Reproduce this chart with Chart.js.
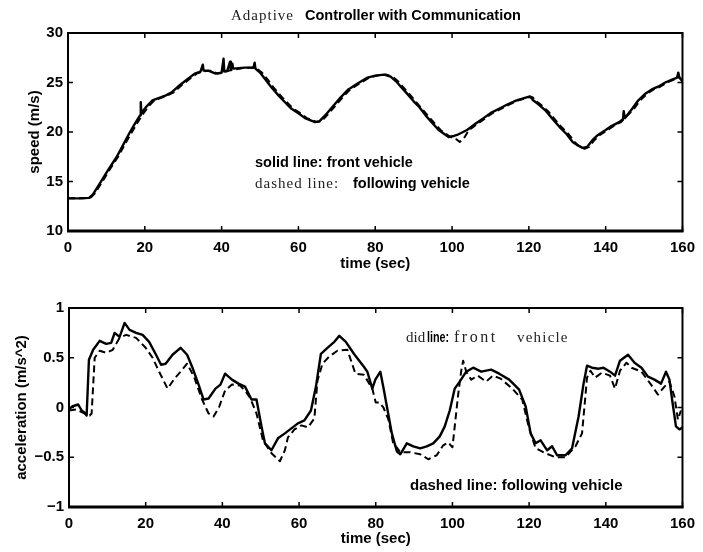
<!DOCTYPE html>
<html>
<head>
<meta charset="utf-8">
<script src="https://cdn.jsdelivr.net/npm/chart.js@4.4.1/dist/chart.umd.min.js"></script>
<style>
  html, body { margin:0; padding:0; background:#fff; }
  #wrap { position:relative; width:703px; height:552px; background:#fff; overflow:hidden; }
  canvas { position:absolute; left:0; }
  .t { position:absolute; white-space:nowrap; line-height:20px; height:20px; color:#000; }
  .sans { font-family:"Liberation Sans", Arial, sans-serif; font-weight:bold; }
  .serif { font-family:"Liberation Serif", serif; color:#222; letter-spacing:1px; }
</style>
</head>
<body>
<div id="wrap">
  <canvas id="c1" width="703" height="276" style="top:0"></canvas>
  <canvas id="c2" width="703" height="276" style="top:276px"></canvas>

  <div class="t serif" style="left:231px;top:5px;font-size:15px;">Adaptive</div>
  <div class="t sans" style="left:305px;top:5px;font-size:14.5px;">Controller with Communication</div>

  <div class="t sans" style="left:255px;top:152px;font-size:14.5px;">solid line: front vehicle</div>
  <div class="t serif" style="left:255px;top:173px;font-size:15px;">dashed line:</div>
  <div class="t sans" style="left:353px;top:173px;font-size:14.5px;">following vehicle</div>

  <div class="t serif" style="left:406px;top:327px;font-size:15px;letter-spacing:0;">did</div>
  <div class="t sans" style="left:427px;top:327px;font-size:15px;transform:scaleX(0.72);transform-origin:0 50%;">line:</div>
  <div class="t serif" style="left:454px;top:327px;font-size:16px;letter-spacing:2.5px;">front</div>
  <div class="t serif" style="left:517px;top:327px;font-size:15px;letter-spacing:1.2px;">vehicle</div>

  <div class="t sans" style="left:410px;top:475px;font-size:15px;">dashed line: following vehicle</div>
</div>
<script>
// ---------------- DATA ----------------
const xTicks = [0, 20, 40, 60, 80, 100, 120, 140, 160];
const speedTicks = [10, 15, 20, 25, 30];
const accTicks = [-1, -0.5, 0, 0.5, 1];

// speed, front vehicle (solid)
const speedFrontT = [0,3,5.5,6.5,8.3,10.5,12.7,14.5,16,17.5,18.8,18.95,19.1,19.25,20.5,22,25.5,27,29,31,33,34.5,35.1,35.3,36.5,38.5,40,40.5,40.7,41.5,42.2,42.4,42.8,43.0,46,48.3,48.6,48.8,50,51.4,53,54.8,56.5,58,60,61.7,64.3,65.5,67,69,71,73,75.4,78,80,82.3,84,85.5,86.6,88,90,91.5,93.5,96.5,99.1,100.5,101.3,103.9,106,108.2,110,112.5,114.5,116.8,119.4,120.3,121.1,122.5,124.5,126,128,129.8,131.4,132.5,134,135.2,136.6,138,140,141.5,143.5,144.5,144.7,145,147,148.5,150.4,152,153.8,155.5,157.3,158.6,158.9,159.2,160];
const speedFrontV = [13.3,13.3,13.35,13.7,14.8,16.2,17.5,18.8,19.9,20.9,21.7,23.0,21.9,22.0,22.6,23.2,23.7,24.0,24.7,25.3,25.9,26.1,26.8,26.2,26.2,25.9,26.0,27.4,26.1,26.2,27.1,26.3,26.9,26.4,26.5,26.5,27.0,26.4,26.0,25.3,24.5,23.7,23.0,22.4,21.9,21.4,21.0,21.1,21.7,22.6,23.5,24.3,24.9,25.5,25.7,25.8,25.6,25.1,24.6,24.0,23.1,22.5,21.5,20.2,19.5,19.6,19.7,20.2,20.8,21.4,21.9,22.4,22.8,23.2,23.5,23.6,23.2,22.8,22.1,21.4,20.5,19.8,19.0,18.7,18.4,18.5,19.2,19.7,20.2,20.6,21.0,21.3,22.1,21.4,22.4,23.2,23.9,24.3,24.6,25.0,25.3,25.5,26.0,25.5,25.1];

// speed, following vehicle (dashed)
const speedFollowT = [0,4,6,7,8.8,11,13.2,15,16.5,18,19.5,21,22.5,26,27.5,29.5,31.5,33.5,35,37,39,40.5,42,46,48.8,50.5,52,53.5,55.3,57,58.5,60.5,62.2,64.8,66,67.5,69.5,71.5,73.5,75.9,78.5,80.5,82.8,84.5,86,87.1,88.5,90.5,94,97,99.6,101,102,103,104.4,106.5,108.7,110.5,113,115,117.3,119.9,121,121.6,123,125,126.5,128.5,130.3,131.9,133,134.5,135.7,137.1,138.5,140.5,142,144,145.5,147.5,149,150.9,152.5,154.3,156,157.8,159.1,160];
const speedFollowV = [13.3,13.3,13.4,13.8,14.9,16.3,17.6,18.9,19.9,20.9,21.8,22.6,23.2,23.7,24.0,24.7,25.3,25.9,26.1,26.2,25.9,26.0,26.2,26.5,26.5,26.0,25.3,24.5,23.7,23.0,22.4,21.9,21.4,21.0,21.1,21.7,22.6,23.5,24.3,24.9,25.5,25.7,25.8,25.6,25.1,24.6,24.0,23.1,21.5,20.2,19.5,19.3,19.0,19.3,20.2,20.8,21.4,21.9,22.4,22.8,23.2,23.5,23.5,23.2,22.8,22.1,21.4,20.5,19.8,19.0,18.6,18.3,18.5,19.2,19.7,20.2,20.6,21.0,21.6,22.4,23.2,23.9,24.3,24.6,25.0,25.3,25.5,25.3];

// acceleration, front vehicle (solid)
const accFrontT = [0,0.8,1.6,2.4,3.3,4.0,4.6,5.2,6.3,8,9.7,11,11.9,13.2,14.5,15.8,17.5,19.2,20.9,22.7,24,25.2,27,29.1,30.8,32.1,33.8,35.1,36.4,38.2,39.5,40.7,42.5,44.2,45.9,47.6,48.9,50.2,51.1,52.8,54.5,56.3,58,59.7,61.4,63.1,64.4,65.7,67.4,69.2,70.5,72.2,74.3,76.9,77.8,79.1,79.9,81.2,82.1,82.9,84.2,85.5,86.4,88.1,89.8,91.6,93.3,95,96.7,98,99.3,100.6,101.9,103.6,105.4,107.5,110.1,112.2,114.8,117.4,119.1,120.4,121.7,123,124.7,126,127.3,129.5,131.2,132.9,134.2,135.1,136.4,138.1,139.4,141.1,142.4,143.7,145.8,147.5,149.3,151,152.7,154.4,155.7,156.6,157.4,158.3,159.2,160];
const accFrontV = [-0.02,0.01,0.02,0.03,-0.03,-0.05,-0.08,0.48,0.58,0.67,0.64,0.65,0.75,0.71,0.85,0.78,0.75,0.73,0.66,0.53,0.43,0.44,0.53,0.60,0.53,0.41,0.23,0.08,0.09,0.19,0.23,0.34,0.28,0.24,0.21,0.08,0.08,-0.19,-0.36,-0.43,-0.31,-0.26,-0.21,-0.16,-0.13,-0.03,0.21,0.54,0.60,0.66,0.72,0.66,0.54,0.41,0.36,0.19,0.28,0.36,0.18,0.01,-0.26,-0.44,-0.47,-0.36,-0.39,-0.41,-0.39,-0.36,-0.29,-0.19,-0.03,0.19,0.26,0.36,0.40,0.36,0.38,0.34,0.28,0.18,0.01,-0.26,-0.36,-0.33,-0.43,-0.39,-0.48,-0.48,-0.41,-0.09,0.24,0.42,0.40,0.39,0.40,0.36,0.32,0.47,0.53,0.45,0.40,0.31,0.28,0.24,0.36,0.28,0.05,-0.19,-0.22,-0.20];

// acceleration, following vehicle (dashed)
const accFollowT = [0,2,4,5.4,5.9,6.7,8,9.7,11.4,13.2,14.9,17.5,20,21.8,23.5,25.7,27.5,29.1,30.8,32.6,34.7,36.4,37.7,39.1,40.7,42.5,44.6,45.9,47.2,48.9,50.6,52.8,55,56.3,57.1,58.8,60.6,62.3,64,64.8,66.1,67.8,70,72.6,74.7,76.9,79.1,80,81,82,83.3,84.5,86.4,89,91.6,93.7,95.9,97.6,98.9,100,100.6,101.5,102.3,102.8,103.6,104.9,106.6,108.8,110.5,112.6,115.6,118.2,120,121.7,124.3,126.9,129.5,132.1,133.8,134.6,135.1,136,137.2,139,141.1,142.4,143.7,145.4,146.7,149.3,151.8,153.6,155.3,156.6,157.9,158.8,159.6];
const accFollowV = [-0.03,-0.02,-0.06,-0.08,-0.06,0.50,0.57,0.55,0.58,0.70,0.73,0.70,0.60,0.50,0.36,0.19,0.29,0.36,0.44,0.31,0.08,-0.06,-0.09,0.00,0.17,0.23,0.22,0.17,0.10,-0.06,-0.33,-0.46,-0.54,-0.43,-0.30,-0.22,-0.18,-0.20,-0.11,0.27,0.44,0.51,0.57,0.58,0.34,0.33,0.19,0.05,0.05,0.00,-0.12,-0.35,-0.45,-0.45,-0.47,-0.52,-0.48,-0.38,-0.35,-0.40,-0.19,0.13,0.37,0.47,0.36,0.28,0.32,0.26,0.32,0.29,0.19,0.08,-0.21,-0.41,-0.46,-0.50,-0.50,-0.39,-0.26,0.08,0.30,0.37,0.30,0.35,0.32,0.19,0.37,0.45,0.40,0.36,0.23,0.13,0.21,0.26,0.11,-0.12,-0.03];

// ---------------- BUILD ----------------
const pts = (ts, vs) => ts.map((t, i) => ({ x: t, y: vs[i] }));
const tickFont = { family: '"Liberation Sans", Arial, sans-serif', size: 15, weight: 'bold' };
const titleFont = { family: '"Liberation Sans", Arial, sans-serif', size: 15, weight: 'bold' };

const framePlugin = {
  id: 'frame',
  afterDraw(chart) {
    const { ctx, chartArea: { left, right, top, bottom }, scales: { x, y } } = chart;
    ctx.save();
    ctx.strokeStyle = '#000';
    ctx.lineWidth = 2;
    ctx.strokeRect(left, top, right - left, bottom - top);
    ctx.lineWidth = 3;
    ctx.beginPath(); ctx.moveTo(left - 1, bottom); ctx.lineTo(right + 1, bottom); ctx.stroke();
    ctx.lineWidth = 1.5;
    ctx.beginPath();
    x.ticks.forEach(t => {
      const px = x.getPixelForValue(t.value);
      ctx.moveTo(px, bottom); ctx.lineTo(px, bottom - 5);
      ctx.moveTo(px, top); ctx.lineTo(px, top + 5);
    });
    y.ticks.forEach(t => {
      const py = y.getPixelForValue(t.value);
      ctx.moveTo(left, py); ctx.lineTo(left + 5, py);
      ctx.moveTo(right, py); ctx.lineTo(right - 5, py);
    });
    ctx.stroke();
    ctx.restore();
  }
};

function makeChart(id, cfg) {
  return new Chart(document.getElementById(id), {
    type: 'line',
    data: {
      datasets: [
        { data: cfg.solid, borderColor: '#000', borderWidth: 2.4, borderJoinStyle: 'round', pointRadius: 0, tension: 0, fill: false },
        { data: cfg.dashed, borderColor: '#000', borderWidth: 2, borderJoinStyle: 'round', borderDash: [7, 4], pointRadius: 0, tension: 0, fill: false }
      ]
    },
    options: {
      responsive: false,
      animation: false,
      devicePixelRatio: 1,
      layout: { padding: { top: cfg.padTop, right: cfg.padRight, left: 0, bottom: 0 } },
      plugins: { legend: { display: false }, tooltip: { enabled: false } },
      scales: {
        x: {
          type: 'linear', min: 0, max: 160,
          afterBuildTicks: s => { s.ticks = xTicks.map(v => ({ value: v })); },
          afterFit: s => { s.height = 45; },
          grid: { display: false, drawTicks: false },
          border: { display: false },
          ticks: { font: tickFont, color: '#000', padding: 8, maxRotation: 0, autoSkip: false },
          title: { display: true, text: 'time (sec)', font: titleFont, color: '#000', padding: { top: 0, bottom: cfg.xTitlePad } }
        },
        y: {
          type: 'linear', min: cfg.yMin, max: cfg.yMax,
          afterBuildTicks: s => { s.ticks = cfg.yTicks.map(v => ({ value: v })); },
          afterFit: s => { s.width = cfg.yWidth; },
          grid: { display: false, drawTicks: false },
          border: { display: false },
          ticks: { font: tickFont, color: '#000', padding: 5, autoSkip: false,
                   callback: v => String(v).replace('-', '\u2212') },
          title: { display: true, text: cfg.yTitle, font: titleFont, color: '#000', padding: { top: cfg.yTitlePad, bottom: 0 } }
        }
      }
    },
    plugins: [framePlugin]
  });
}

makeChart('c1', {
  solid: pts(speedFrontT, speedFrontV),
  dashed: pts(speedFollowT, speedFollowV),
  yMin: 10, yMax: 30, yTicks: speedTicks, yTitle: 'speed (m/s)',
  padTop: 33, padRight: 16, yWidth: 68, yTitlePad: 26, xTitlePad: 3
});
makeChart('c2', {
  solid: pts(accFrontT, accFrontV),
  dashed: pts(accFollowT, accFollowV),
  yMin: -1, yMax: 1, yTicks: accTicks, yTitle: 'acceleration (m/s^2)',
  padTop: 32, padRight: 15, yWidth: 69, yTitlePad: 13, xTitlePad: 4
});
</script>
</body>
</html>
